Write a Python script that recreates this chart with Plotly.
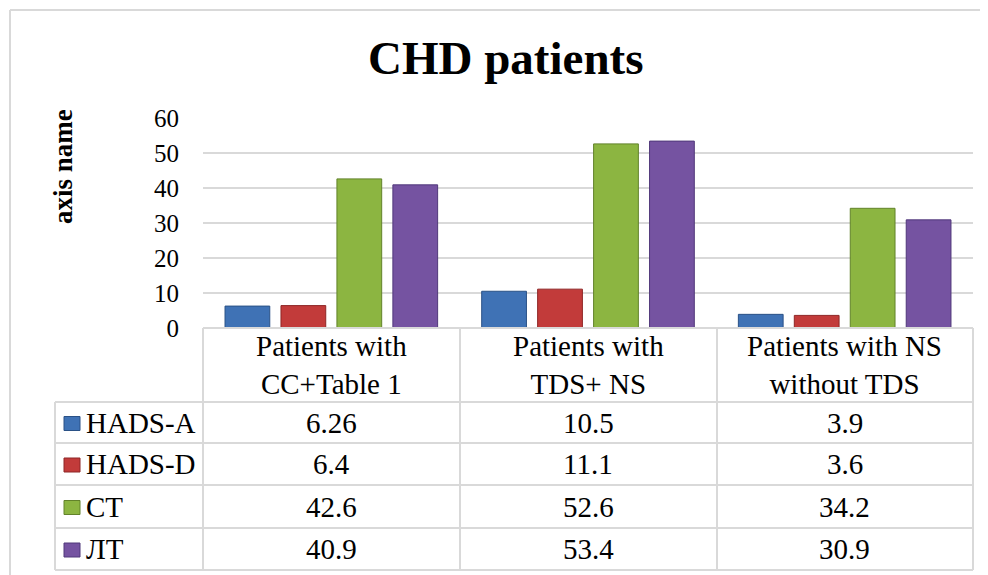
import plotly.graph_objects as go

# The page body adds an 8px margin, so the figure is drawn 8px smaller and shifted.
OFF = 8
W, H = 988 - OFF, 575 - OFF

categories = ["Patients with<br>CC+Table 1", "Patients with<br>TDS+ NS", "Patients with NS<br>without TDS"]
series_names = ["HADS-A", "HADS-D", "СТ", "ЛТ"]
hads_a = [6.26, 10.5, 3.9]
hads_d = [6.4, 11.1, 3.6]
st_vals = [42.6, 52.6, 34.2]
lt_vals = [40.9, 53.4, 30.9]
series_values = [hads_a, hads_d, st_vals, lt_vals]
y_ticks = [0, 10, 20, 30, 40, 50, 60]

colors = ["#3f72b5", "#c23b3a", "#8cb541", "#7553a1"]
edge_colors = ["#2a5186", "#8e2626", "#62822a", "#50387a"]

FONT = "Liberation Serif, Times New Roman, serif"
GRID = "#d9d9d9"


def px(x):
    return (x - OFF) / W


def py(y):
    return 1 - (y - OFF) / H


fig = go.Figure()
for name, vals, c, ec in zip(series_names, series_values, colors, edge_colors):
    fig.add_trace(go.Bar(
        x=categories, y=vals, name=name,
        marker=dict(color=c, line=dict(color=ec, width=1)),
        showlegend=False,
    ))

# geometry of the plot and table (reference pixels)
plot_l, plot_r, plot_t, plot_b = 203, 973, 118, 328
label_l = 55
row_lines = [402, 443, 485, 528, 570]
col_lines = [203, 460, 717, 973]

shapes = []
line_style = dict(color=GRID, width=2)
# outer chart border
shapes.append(dict(type="line", xref="paper", yref="paper", x0=px(10), x1=1, y0=py(10), y1=py(10), line=line_style))
shapes.append(dict(type="line", xref="paper", yref="paper", x0=px(10), x1=px(10), y0=py(10), y1=0, line=line_style))
# table horizontal lines
shapes.append(dict(type="line", xref="paper", yref="paper", x0=px(plot_l), x1=px(plot_r), y0=py(plot_b), y1=py(plot_b),
                   line=line_style))
for yl in row_lines:
    shapes.append(dict(type="line", xref="paper", yref="paper", x0=px(label_l), x1=px(plot_r), y0=py(yl), y1=py(yl),
                       line=line_style))
# table vertical lines
for xl in col_lines:
    shapes.append(dict(type="line", xref="paper", yref="paper", x0=px(xl), x1=px(xl), y0=py(plot_b),
                       y1=py(row_lines[-1]), line=line_style))
shapes.append(dict(type="line", xref="paper", yref="paper", x0=px(label_l), x1=px(label_l), y0=py(row_lines[0]),
                   y1=py(row_lines[-1]), line=line_style))

annotations = []
# title
annotations.append(dict(text="<b>CHD patients</b>", xref="paper", yref="paper", x=px(505), y=py(58),
                        xanchor="center", yanchor="middle", showarrow=False,
                        font=dict(family=FONT, size=47, color="black")))
# y axis title
annotations.append(dict(text="<b>axis name</b>", xref="paper", yref="paper", x=px(63), y=py(167),
                        xanchor="center", yanchor="middle", showarrow=False, textangle=-90,
                        font=dict(family=FONT, size=27, color="black")))
# header row
for cat in categories:
    annotations.append(dict(text=cat, xref="x", yref="paper", x=cat, y=py((plot_b + row_lines[0]) / 2),
                            xanchor="center", yanchor="middle", showarrow=False,
                            font=dict(family=FONT, size=29, color="black")))
# data rows
for i, (name, vals, c, ec) in enumerate(zip(series_names, series_values, colors, edge_colors)):
    y0, y1 = row_lines[i], row_lines[i + 1]
    yc = (y0 + y1) / 2
    shapes.append(dict(type="rect", xref="paper", yref="paper", x0=px(64), x1=px(80), y0=py(yc - 6), y1=py(yc + 8),
                       fillcolor=c, line=dict(color=ec, width=1)))
    annotations.append(dict(text=name, xref="paper", yref="paper", x=px(84), y=py(yc),
                            xanchor="left", yanchor="middle", showarrow=False,
                            font=dict(family=FONT, size=29, color="black")))
    for cat, v in zip(categories, vals):
        annotations.append(dict(text=str(v), xref="x", yref="paper", x=cat, y=py(yc),
                                xanchor="center", yanchor="middle", showarrow=False,
                                font=dict(family=FONT, size=29, color="black")))

fig.update_layout(
    width=W, height=H,
    margin=dict(l=0, r=0, t=0, b=0, pad=0, autoexpand=False),
    paper_bgcolor="white", plot_bgcolor="white",
    showlegend=False,
    font=dict(family=FONT),
    barmode="group", bargap=0.128, bargroupgap=0.2,
    xaxis=dict(domain=[px(plot_l), px(plot_r)], type="category", showticklabels=False,
               showgrid=False, zeroline=False, showline=False, automargin=False),
    yaxis=dict(domain=[py(plot_b), py(plot_t)], range=[0, 60], tickvals=y_ticks,
               showgrid=True, gridcolor=GRID, gridwidth=2, zeroline=False, showline=False,
               ticks="", ticklabelstandoff=23, automargin=False,
               tickfont=dict(family=FONT, size=25, color="black")),
    shapes=shapes,
    annotations=annotations,
)

fig.write_html("out.html")
